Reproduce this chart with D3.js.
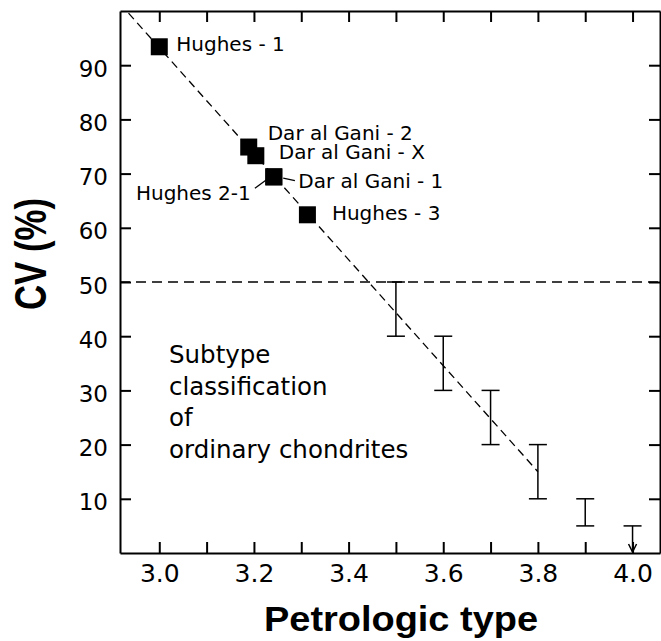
<!DOCTYPE html>
<html>
<head>
<meta charset="utf-8">
<script src="https://cdn.jsdelivr.net/npm/d3@7"></script>
<style>
body { margin: 0; background: #fff; }
svg { display: block; font-family: "DejaVu Sans", sans-serif; }
.axis path, .axis line { stroke: #000; stroke-width: 2; }
</style>
</head>
<body>
<svg width="661" height="641"></svg>
<script>
// meteorite samples: petrologic type vs CV (%)
var sampleNames = ["Hughes - 1", "Dar al Gani - 2", "Dar al Gani - X", "Hughes 2-1", "Dar al Gani - 1", "Hughes - 3"];
var sampleType = [3.0, 3.189, 3.204, 3.242, 3.242, 3.313];
var sampleCV = [93.4, 74.9, 73.3, 69.4, 69.4, 62.4];

// subtype ranges (error bars)
var rangeType = [3.5, 3.6, 3.7, 3.8, 3.9, 4.0];
var rangeLow = [40, 30, 20, 10, 5, 0];
var rangeHigh = [50, 40, 30, 20, 10, 5];

// ends of the dashed trend line
var trendType = [2.935, 3.8];
var trendCV = [99.6, 15.0];

// horizontal limit
var limitCV = 50;

var xTicks = [3.0, 3.1, 3.2, 3.3, 3.4, 3.5, 3.6, 3.7, 3.8, 3.9, 4.0];
var xTickLabels = ["3.0", "3.2", "3.4", "3.6", "3.8", "4.0"];
var yTicks = [10, 20, 30, 40, 50, 60, 70, 80, 90];
var noteLines = ["Subtype", "classification", "of", "ordinary chondrites"];

// label placement (pixels, relative to the square)
var labelLayout = {
    "Hughes - 1": {dx: 17, dy: 4, anchor: "start"},
    "Dar al Gani - 2": {dx: 19, dy: -7, anchor: "start"},
    "Dar al Gani - X": {dx: 23, dy: 3.5, anchor: "start"},
    "Dar al Gani - 1": {dx: 24.5, dy: 11, anchor: "start", leader: [9.4, 1.3, 21.1, 3.7]},
    "Hughes 2-1": {dx: -23, dy: 23, anchor: "end", leader: [-6.6, 2.3, -18.9, 11.3]},
    "Hughes - 3": {dx: 24.5, dy: 5, anchor: "start"}
};

var samples = sampleNames.map(function(n, i) {
    return {name: n, type: sampleType[i], cv: sampleCV[i]};
});
var ranges = rangeType.map(function(t, i) {
    return {type: t, low: rangeLow[i], high: rangeHigh[i]};
});
var trend = trendType.map(function(t, i) { return [t, trendCV[i]]; });

var svg = d3.select("svg"),
    margin = {top: 11, right: 1, bottom: 88, left: 120},
    width = +svg.attr("width") - margin.left - margin.right,
    height = +svg.attr("height") - margin.top - margin.bottom;

var g = svg.append("g")
    .attr("transform", "translate(" + margin.left + "," + margin.top + ")");

var x = d3.scaleLinear().domain([2.917, 4.058]).range([0, width]);
var y = d3.scaleLinear().domain([0, 100]).range([height, 0]);

// axes, ticks pointing inward
g.append("g")
    .attr("class", "axis")
    .attr("transform", "translate(0," + height + ")")
    .call(d3.axisBottom(x).tickValues(xTicks).tickSize(-11).tickSizeOuter(0).tickPadding(11)
        .tickFormat(function(d) {
            var s = d.toFixed(1);
            return xTickLabels.indexOf(s) >= 0 ? s : "";
        }))
    .call(function(a) {
        a.selectAll("text").style("font-size", "25px").style("font-family", "DejaVu Sans");
    });

g.append("g")
    .attr("class", "axis")
    .call(d3.axisTop(x).tickValues(xTicks).tickSize(-11).tickSizeOuter(0).tickFormat(""));

g.append("g")
    .attr("class", "axis")
    .call(d3.axisLeft(y).tickValues(yTicks).tickSize(-11).tickSizeOuter(0).tickPadding(12))
    .call(function(a) {
        a.selectAll("text").attr("dy", "0.48em")
            .style("font-size", "23px").style("font-family", "DejaVu Sans");
    });

g.append("g")
    .attr("class", "axis")
    .attr("transform", "translate(" + width + ",0)")
    .call(d3.axisRight(y).tickValues(yTicks).tickSize(-11).tickSizeOuter(0).tickFormat(""));

// dashed 50% line
g.append("line")
    .attr("x1", 0).attr("x2", width)
    .attr("y1", y(limitCV)).attr("y2", y(limitCV))
    .attr("stroke", "#000").attr("stroke-width", 1.4)
    .attr("stroke-dasharray", "10,6");

// dashed trend
g.append("path")
    .datum(trend)
    .attr("d", d3.line().x(function(d) { return x(d[0]); }).y(function(d) { return y(d[1]); }))
    .attr("fill", "none").attr("stroke", "#000").attr("stroke-width", 1.3)
    .attr("stroke-dasharray", "8,5");

// subtype ranges
var bars = g.selectAll(".range")
    .data(ranges)
    .enter()
    .append("g")
    .attr("class", "range")
    .attr("stroke", "#000").attr("stroke-width", 1.5).attr("fill", "none");

bars.append("line")
    .attr("x1", function(d) { return x(d.type); })
    .attr("x2", function(d) { return x(d.type); })
    .attr("y1", function(d) { return y(d.high); })
    .attr("y2", function(d) { return y(d.low) - (d.low == 0 ? 1 : 0); });

bars.append("line")
    .attr("x1", function(d) { return x(d.type) - 9; })
    .attr("x2", function(d) { return x(d.type) + 9; })
    .attr("y1", function(d) { return y(d.high); })
    .attr("y2", function(d) { return y(d.high); });

// bottom cap, or an arrow for the open-ended one
bars.filter(function(d) { return d.low > 0; })
    .append("line")
    .attr("x1", function(d) { return x(d.type) - 9; })
    .attr("x2", function(d) { return x(d.type) + 9; })
    .attr("y1", function(d) { return y(d.low); })
    .attr("y2", function(d) { return y(d.low); });

bars.filter(function(d) { return d.low == 0; })
    .append("path")
    .attr("d", function(d) {
        var px = x(d.type), py = y(d.low) - 1;
        return "M" + (px - 4) + "," + (py - 8) + "L" + px + "," + py + "L" + (px + 4) + "," + (py - 8);
    });

// samples
g.selectAll(".sample")
    .data(samples)
    .enter()
    .append("rect")
    .attr("class", "sample")
    .attr("x", function(d) { return x(d.type) - 8.5; })
    .attr("y", function(d) { return y(d.cv) - 8.5; })
    .attr("width", 17)
    .attr("height", 17)
    .style("fill", "#000");

g.selectAll(".sample-label")
    .data(samples)
    .enter()
    .append("text")
    .attr("class", "sample-label")
    .attr("x", function(d) { return x(d.type) + labelLayout[d.name].dx; })
    .attr("y", function(d) { return y(d.cv) + labelLayout[d.name].dy; })
    .attr("text-anchor", function(d) { return labelLayout[d.name].anchor; })
    .style("font-size", "20px")
    .text(function(d) { return d.name; });

g.selectAll(".leader")
    .data(samples.filter(function(d) { return labelLayout[d.name].leader; }))
    .enter()
    .append("line")
    .attr("class", "leader")
    .attr("x1", function(d) { return x(d.type) + labelLayout[d.name].leader[0]; })
    .attr("y1", function(d) { return y(d.cv) + labelLayout[d.name].leader[1]; })
    .attr("x2", function(d) { return x(d.type) + labelLayout[d.name].leader[2]; })
    .attr("y2", function(d) { return y(d.cv) + labelLayout[d.name].leader[3]; })
    .attr("stroke", "#000").attr("stroke-width", 1.3);

// note
g.append("text")
    .attr("transform", "translate(49,352)")
    .style("font-size", "24.5px")
    .selectAll("tspan")
    .data(noteLines)
    .enter()
    .append("tspan")
    .attr("x", 0)
    .attr("y", function(d, i) { return i * 31.7; })
    .text(function(d) { return d; });

// axis titles
svg.append("text")
    .attr("x", 401).attr("y", 631)
    .attr("text-anchor", "middle")
    .attr("textLength", 274).attr("lengthAdjust", "spacingAndGlyphs")
    .style("font-family", "Liberation Sans, Arial, sans-serif")
    .style("font-weight", "bold").style("font-size", "35px")
    .text("Petrologic type");

svg.append("text")
    .attr("transform", "translate(46,254) rotate(-90)")
    .attr("text-anchor", "middle")
    .attr("textLength", 112).attr("lengthAdjust", "spacingAndGlyphs")
    .style("font-family", "Liberation Sans, Arial, sans-serif")
    .style("font-weight", "bold").style("font-size", "44px")
    .text("CV (%)");
</script>
</body>
</html>
